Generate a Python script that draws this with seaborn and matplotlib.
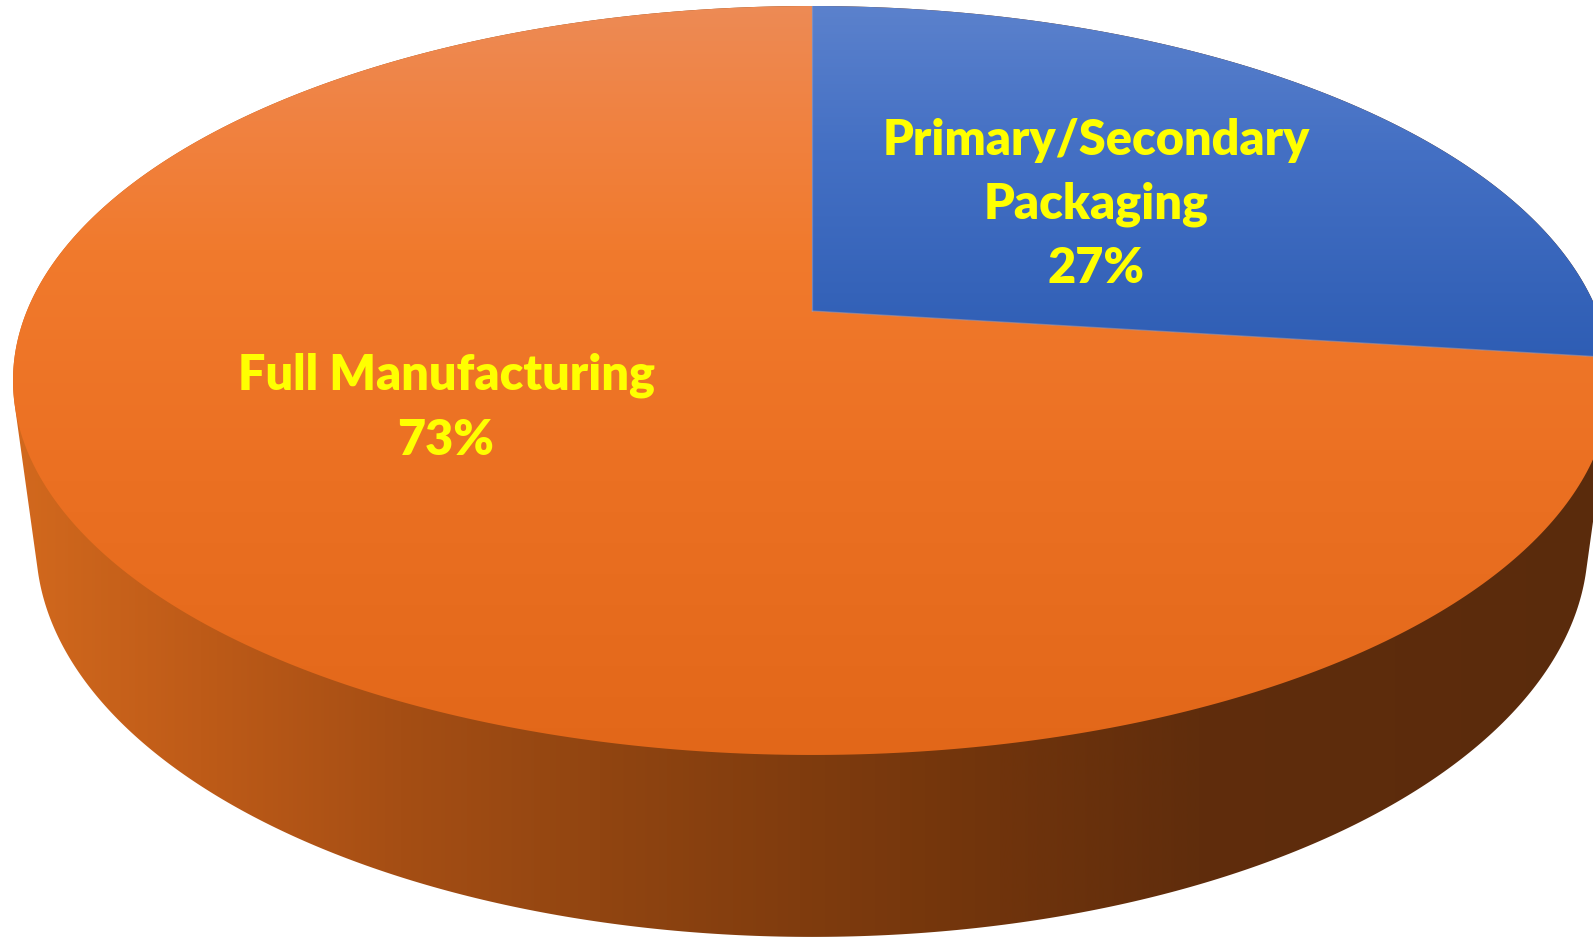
import numpy as np
import matplotlib
matplotlib.use("Agg")
import matplotlib.pyplot as plt
from matplotlib.patches import Polygon
import seaborn as sns

# ---------------- data ----------------
categories = ["Primary/Secondary\nPackaging", "Full Manufacturing"]
shares = [27, 73]
label_color = "#FFFF00"

# gradient stops (screen y position, colour) for top faces
blue_stops = [(0, (92, 130, 205)), (150, (68, 112, 196)), (360, (46, 93, 180))]
orange_stops = [(0, (237, 139, 86)), (120, (240, 130, 65)), (250, (241, 122, 45)),
                (450, (236, 113, 35)), (760, (226, 103, 25))]
# side wall horizontal gradient
side_stops = [(0, (212, 106, 30)), (200, (190, 91, 24)), (400, (165, 78, 20)),
              (600, (145, 69, 17)), (800, (128, 60, 14)), (1000, (112, 52, 12)),
              (1200, (96, 45, 12)), (1593, (90, 43, 13))]

sns.set_theme(style="white")
plt.rcParams['font.family'] = ['Lato', 'DejaVu Sans']

W, H = 1593, 941
fig = plt.figure(figsize=(W / 100, H / 100), dpi=100)
ax = fig.add_axes([0, 0, 1, 1])
ax.set_xlim(0, W)
ax.set_ylim(H, 0)
ax.axis('off')

# ---------------- perspective camera model ----------------
CX, C0, FOC = 812.0, -1637.6, 4231.0
D_TOP, K_TOP = 5.389, 10501.0
D_BOT, K_BOT = 5.543, 11696.0


def proj(alpha, D, K):
    X = np.sin(alpha)
    Y = np.cos(alpha)
    return CX + FOC * X / (D + Y), C0 + K / (D + Y)


def ramp(stops, n):
    pos = np.array([s[0] for s in stops], float)
    cols = np.array([s[1] for s in stops], float) / 255.0
    grid = np.linspace(0, 1, n) * (pos[-1] - pos[0]) + pos[0]
    return np.stack([np.interp(grid, pos, cols[:, i]) for i in range(3)], axis=-1)


def gradient_fill(poly_xy, stops, vertical=True, z=1):
    patch = Polygon(poly_xy, closed=True, facecolor='none', edgecolor='none')
    ax.add_patch(patch)
    p0, p1 = stops[0][0], stops[-1][0]
    cols = ramp(stops, 512)
    if vertical:
        img = cols[:, None, :]
        extent = [0, W, p1, p0]
    else:
        img = cols[None, :, :]
        extent = [p0, p1, H, 0]
    im = ax.imshow(img, extent=extent, aspect='auto', zorder=z, interpolation='bilinear')
    im.set_clip_path(patch)


def hull(points):
    pts = sorted(map(tuple, points))
    def cross(o, a, b):
        return (a[0] - o[0]) * (b[1] - o[1]) - (a[1] - o[1]) * (b[0] - o[0])
    lower, upper = [], []
    for p in pts:
        while len(lower) >= 2 and cross(lower[-2], lower[-1], p) <= 0:
            lower.pop()
        lower.append(p)
    for p in reversed(pts):
        while len(upper) >= 2 and cross(upper[-2], upper[-1], p) <= 0:
            upper.pop()
        upper.append(p)
    return np.array(lower[:-1] + upper[:-1])

# ---------------- side wall ----------------
a_full = np.linspace(0, 2 * np.pi, 720, endpoint=False)
tx, ty = proj(a_full, D_TOP, K_TOP)
bx, by = proj(a_full, D_BOT, K_BOT)
sil = hull(np.concatenate([np.c_[tx, ty], np.c_[bx, by]]))
gradient_fill(sil, side_stops, vertical=False, z=1)

# ---------------- top face slices ----------------
apex = (CX, C0 + K_TOP / D_TOP)
fracs = np.array(shares, float) / sum(shares)
bounds = np.concatenate([[0], np.cumsum(fracs)]) * 2 * np.pi
slice_stops = [blue_stops, orange_stops]
for i in range(len(shares)):
    a = np.linspace(bounds[i], bounds[i + 1], 400)
    x, y = proj(a, D_TOP, K_TOP)
    poly = np.vstack([[apex], np.c_[x, y]])
    gradient_fill(poly, slice_stops[i], vertical=True, z=2)

# slice separator lines
for b in bounds[:-1]:
    ex, ey = proj(b, D_TOP, K_TOP)
    ax.plot([apex[0], ex], [apex[1], ey], color='#9a9ab8', lw=0.9, alpha=0.6, zorder=3)

# ---------------- labels ----------------
label_lines = [
    (categories[0].split("\n") + [f"{shares[0]}%"], 1096, [155, 218, 283]),
    (categories[1].split("\n") + [f"{shares[1]}%"], 446, [390, 455]),
]
for lines, xc, ys in label_lines:
    for txt, yb in zip(lines, ys):
        ax.text(xc, yb, txt, ha='center', va='baseline', color=label_color,
                fontsize=35, fontweight=800, zorder=5)

fig.savefig("out.png", dpi=100, facecolor='white')
